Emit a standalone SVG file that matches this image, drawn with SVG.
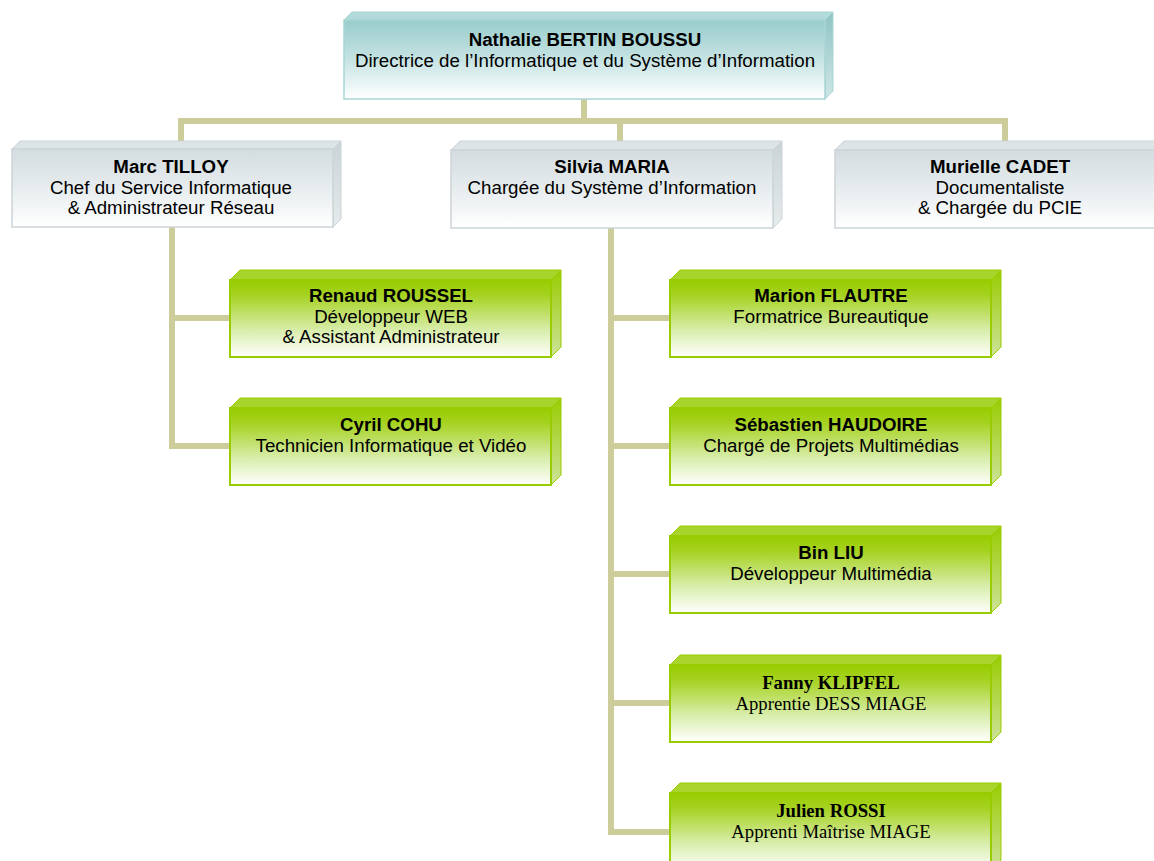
<svg xmlns="http://www.w3.org/2000/svg" width="1154" height="861" viewBox="0 0 1154 861">
<defs>
<linearGradient id="gTeal" x1="0" y1="0" x2="0" y2="1"><stop offset="0" stop-color="#99cccc"/><stop offset="0.5" stop-color="#c6e3e3"/><stop offset="1" stop-color="#ffffff"/></linearGradient>
<linearGradient id="gGray" x1="0" y1="0" x2="0" y2="1"><stop offset="0" stop-color="#d3dcdf"/><stop offset="0.55" stop-color="#e9eef0"/><stop offset="1" stop-color="#ffffff"/></linearGradient>
<linearGradient id="gGreen" x1="0" y1="0" x2="0" y2="1"><stop offset="0" stop-color="#99cc00"/><stop offset="0.2" stop-color="#a6d222"/><stop offset="0.65" stop-color="#d8edaa"/><stop offset="1" stop-color="#ffffff"/></linearGradient>
<linearGradient id="gGreenSide" x1="0" y1="0" x2="0" y2="1"><stop offset="0" stop-color="#99cc00"/><stop offset="1" stop-color="#cde39a"/></linearGradient>
<linearGradient id="gTealSide" x1="0" y1="0" x2="0" y2="1"><stop offset="0" stop-color="#8fc4c4"/><stop offset="1" stop-color="#cfe6e6"/></linearGradient>
<linearGradient id="gGraySide" x1="0" y1="0" x2="0" y2="1"><stop offset="0" stop-color="#c9d3d6"/><stop offset="1" stop-color="#e6ebed"/></linearGradient>
</defs>
<style>
.conn{fill:none;stroke:#cdcd9b;stroke-width:6;stroke-linejoin:miter}
.t{font-family:"Liberation Sans",Arial,sans-serif;font-size:18.7px;fill:#000;text-anchor:middle}
.tb{font-weight:bold}
.ts{font-family:"Liberation Serif","Times New Roman",serif;font-size:18.7px;fill:#000;text-anchor:middle}
.fTeal{fill:url(#gTeal);stroke:#a9d5d5;stroke-width:1.5}
.topTeal{fill:#b3dada;stroke:#a9d5d5;stroke-width:1}
.sideTeal{fill:url(#gTealSide);stroke:#a9d5d5;stroke-width:1}
.fGray{fill:url(#gGray);stroke:#cbd4d7;stroke-width:1.5}
.topGray{fill:#dde4e6;stroke:#cbd4d7;stroke-width:1}
.sideGray{fill:url(#gGraySide);stroke:#cbd4d7;stroke-width:1}
.fGreen{fill:url(#gGreen);stroke:#99cc00;stroke-width:2}
.topGreen{fill:#a9d42c;stroke:#99cc00;stroke-width:1}
.sideGreen{fill:url(#gGreenSide);stroke:#99cc00;stroke-width:1}
</style>
<rect width="1154" height="861" fill="#ffffff"/>
<g id="connectors">
<path class="conn" d="M584 99 V121"/>
<path class="conn" d="M181 142 V121 H1005 V142"/>
<path class="conn" d="M620 121 V142"/>
<path class="conn" d="M172 227 V446 H231"/>
<path class="conn" d="M172 318 H231"/>
<path class="conn" d="M611 228 V832 H671"/>
<path class="conn" d="M611 318 H671"/>
<path class="conn" d="M611 446 H671"/>
<path class="conn" d="M611 574 H671"/>
<path class="conn" d="M611 703 H671"/>
</g>
<g id="n-bertin">
<polygon class="topTeal" points="344,20 352,12 833,12 825,20"/>
<polygon class="sideTeal" points="825,20 833,12 833,91 825,99"/>
<rect class="fTeal" x="344" y="20" width="481" height="79"/>
<text class="t tb" x="585" y="46">Nathalie BERTIN BOUSSU</text>
<text class="t" x="585" y="67">Directrice de l’Informatique et du Système d’Information</text>
</g>
<g id="n-tilloy">
<polygon class="topGray" points="12,149 20,141 341,141 333,149"/>
<polygon class="sideGray" points="333,149 341,141 341,219 333,227"/>
<rect class="fGray" x="12" y="149" width="321" height="78"/>
<text class="t tb" x="171" y="173">Marc TILLOY</text>
<text class="t" x="171" y="194">Chef du Service Informatique</text>
<text class="t" x="171" y="214">&amp; Administrateur Réseau</text>
</g>
<g id="n-maria">
<polygon class="topGray" points="451,150 460,141 782,141 773,150"/>
<polygon class="sideGray" points="773,150 782,141 782,219 773,228"/>
<rect class="fGray" x="451" y="150" width="322" height="78"/>
<text class="t tb" x="612" y="173">Silvia MARIA</text>
<text class="t" x="612" y="194">Chargée du Système d’Information</text>
</g>
<g id="n-cadet">
<polygon class="topGray" points="835,150 844,141 1166,141 1157,150"/>
<rect class="fGray" x="835" y="150" width="322" height="78"/>
<text class="t tb" x="1000" y="173">Murielle CADET</text>
<text class="t" x="1000" y="194">Documentaliste</text>
<text class="t" x="1000" y="214">&amp; Chargée du PCIE</text>
</g>
<g id="n-roussel">
<polygon class="topGreen" points="230,280 240,270 561,270 551,280"/>
<polygon class="sideGreen" points="551,280 561,270 561,347 551,357"/>
<rect class="fGreen" x="230" y="280" width="321" height="77"/>
<text class="t tb" x="391" y="302">Renaud ROUSSEL</text>
<text class="t" x="391" y="323">Développeur WEB</text>
<text class="t" x="391" y="343">&amp; Assistant Administrateur</text>
</g>
<g id="n-cohu">
<polygon class="topGreen" points="230,408 240,398 561,398 551,408"/>
<polygon class="sideGreen" points="551,408 561,398 561,475 551,485"/>
<rect class="fGreen" x="230" y="408" width="321" height="77"/>
<text class="t tb" x="391" y="431">Cyril COHU</text>
<text class="t" x="391" y="452">Technicien Informatique et Vidéo</text>
</g>
<g id="n-flautre">
<polygon class="topGreen" points="670,280 680,270 1001,270 991,280"/>
<polygon class="sideGreen" points="991,280 1001,270 1001,347 991,357"/>
<rect class="fGreen" x="670" y="280" width="321" height="77"/>
<text class="t tb" x="831" y="302">Marion FLAUTRE</text>
<text class="t" x="831" y="323">Formatrice Bureautique</text>
</g>
<g id="n-haudoire">
<polygon class="topGreen" points="670,408 680,398 1001,398 991,408"/>
<polygon class="sideGreen" points="991,408 1001,398 1001,475 991,485"/>
<rect class="fGreen" x="670" y="408" width="321" height="77"/>
<text class="t tb" x="831" y="431">Sébastien HAUDOIRE</text>
<text class="t" x="831" y="452">Chargé de Projets Multimédias</text>
</g>
<g id="n-liu">
<polygon class="topGreen" points="670,536 680,526 1001,526 991,536"/>
<polygon class="sideGreen" points="991,536 1001,526 1001,603 991,613"/>
<rect class="fGreen" x="670" y="536" width="321" height="77"/>
<text class="t tb" x="831" y="559">Bin LIU</text>
<text class="t" x="831" y="580">Développeur Multimédia</text>
</g>
<g id="n-klipfel">
<polygon class="topGreen" points="670,665 680,655 1001,655 991,665"/>
<polygon class="sideGreen" points="991,665 1001,655 1001,732 991,742"/>
<rect class="fGreen" x="670" y="665" width="321" height="77"/>
<text class="ts tb" x="831" y="689">Fanny KLIPFEL</text>
<text class="ts" x="831" y="710">Apprentie DESS MIAGE</text>
</g>
<g id="n-rossi">
<polygon class="topGreen" points="670,793 680,783 1001,783 991,793"/>
<polygon class="sideGreen" points="991,793 1001,783 1001,860 991,870"/>
<rect class="fGreen" x="670" y="793" width="321" height="77"/>
<text class="ts tb" x="831" y="817">Julien ROSSI</text>
<text class="ts" x="831" y="838">Apprenti Maîtrise MIAGE</text>
</g>
</svg>
